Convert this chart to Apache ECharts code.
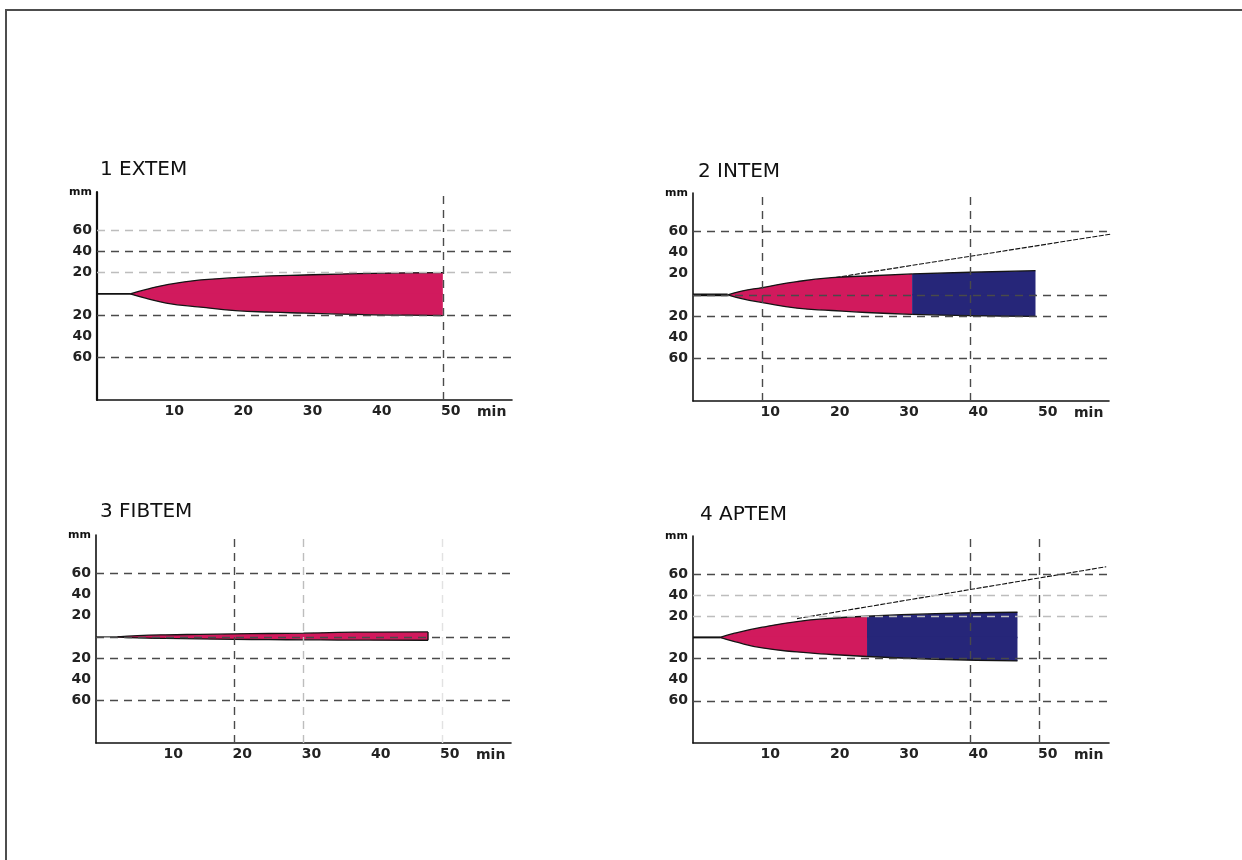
<!DOCTYPE html>
<html><head><meta charset="utf-8">
<script src="https://cdn.jsdelivr.net/npm/echarts@6/dist/echarts.min.js"></script>
<style>
html,body{margin:0;padding:0;background:#fff;}
#chart{width:1242px;height:860px;}
#frame{position:absolute;left:5px;top:9px;width:1237px;height:851px;border-top:2px solid #4d4d4d;border-left:2px solid #4d4d4d;box-sizing:border-box;pointer-events:none;}
</style></head>
<body><div id="chart"></div><div id="frame"></div>
<script>
// ---------- data ----------
const panelTitles = ['1 EXTEM', '2 INTEM', '3 FIBTEM', '4 APTEM'];
const xTickLabels = [10, 20, 30, 40, 50];
const yTickLabels = [20, 40, 60];          // shown mirrored above and below the baseline
const xUnit = 'min';
const yUnit = 'mm';

// 1 EXTEM
const extemBaseEnd = 4.8;
const extemTime  = [4.8, 7, 10, 15, 20, 25, 30, 35, 40, 45, 50];
const extemUpper = [0, 4, 8.5, 13.1, 15.3, 16.9, 17.8, 18.7, 19.4, 19.8, 20];
const extemLower = [0, -4, -8.7, -12.5, -15.7, -17.2, -18.1, -19, -19.7, -20.1, -20.4];
const extemHLines = [60, 40, 20, -20, -60];
const extemHShade = ['light', 'dark', 'light', 'dark', 'dark'];
const extemVLines = [50];
const extemVShade = ['dark'];

// 2 INTEM
const intemBaseEnd = 5;
const intemTimeA  = [5, 7, 10, 15, 20, 25, 31.6];
const intemUpperA = [0, 3.6, 6.9, 12.5, 16.2, 17.8, 19.7];
const intemLowerA = [0, -3.5, -7.2, -12.5, -14.7, -16.6, -18.3];
const intemTimeB  = [31.6, 40, 49.4];
const intemUpperB = [19.7, 21.3, 22.8];
const intemLowerB = [-18.3, -19.6, -20.2];
const intemTrend  = [[15, 10.7], [60.5, 57.5]];
const intemHLines = [60, 0, -20, -60];
const intemHShade = ['dark', 'dark', 'dark', 'dark'];
const intemVLines = [10, 40];
const intemVShade = ['dark', 'dark'];

// 3 FIBTEM
const fibtemBaseEnd = 3.1;
const fibtemTime  = [3.1, 6, 10, 15, 20, 25, 30, 35, 40, 48];
const fibtemUpper = [0, 1.1, 1.9, 2.4, 2.8, 3.2, 3.5, 4.2, 4.5, 4.7];
const fibtemLower = [0, -1, -1.5, -1.9, -2.3, -2.6, -2.8, -3, -3.1, -3.2];
const fibtemHLines = [60, 0, -20, -60];
const fibtemHShade = ['dark', 'dark', 'dark', 'dark'];
const fibtemVLines = [20, 30, 50];
const fibtemVShade = ['dark', 'light', 'faint'];

// 4 APTEM
const aptemBaseEnd = 3.9;
const aptemTimeA  = [3.9, 6, 10, 15, 20, 25.1];
const aptemUpperA = [0, 4, 9.7, 15, 18.1, 20];
const aptemLowerA = [0, -4, -10, -13.8, -16.2, -18.1];
const aptemTimeB  = [25.1, 35, 46.8];
const aptemUpperB = [20, 22.5, 23.8];
const aptemLowerB = [-18.1, -20.7, -22.3];
const aptemTrend  = [[15, 17.8], [59.6, 66.9]];
const aptemHLines = [60, 40, 20, -20, -60];
const aptemHShade = ['dark', 'light', 'light', 'dark', 'dark'];
const aptemVLines = [40, 50];
const aptemVShade = ['dark', 'dark'];

// ---------- styles ----------
const PINK = '#D11A5D';
const NAVY = '#262679';
const EDGE = '#141414';
const SHADE = { dark: '#4a4a4a', light: '#bdbdbd', faint: '#e2e2e2' };
const FONT = 'DejaVu Sans';

const zip = (t, v) => t.map((x, i) => [x, v[i]]);

const gridBoxes = [
  { left: 97,  top: 192, width: 415, height: 208 },
  { left: 693, top: 193, width: 416, height: 208 },
  { left: 96,  top: 535, width: 415, height: 208 },
  { left: 693, top: 536, width: 416, height: 207 }
];
const titlePos = [[100, 160], [698, 162], [100, 502], [700, 505]];

function xAxisFor(i) {
  return {
    gridIndex: i, type: 'value', min: 0, max: 60, interval: 10,
    name: xUnit, nameLocation: 'end', nameGap: -35,
    nameTextStyle: { fontFamily: FONT, fontSize: 14, fontWeight: 'bold', color: '#222', align: 'left', verticalAlign: 'top', padding: [5, 0, 0, 0] },
    axisLine: { show: true, onZero: false, lineStyle: { color: '#111', width: 1.6 } },
    axisTick: { show: false },
    splitLine: { show: false },
    axisLabel: {
      margin: 4, fontFamily: FONT, fontSize: 14, fontWeight: 'bold', color: '#222', padding: [0, 0, 0, 16],
      formatter: v => xTickLabels.includes(v) ? String(v) : ''
    }
  };
}
function yAxisFor(i) {
  return {
    gridIndex: i, type: 'value', min: -100, max: 96, interval: 20,
    name: yUnit, nameLocation: 'end', nameGap: 0,
    nameTextStyle: { fontFamily: FONT, fontSize: 11, fontWeight: 'bold', color: '#111', align: 'right', verticalAlign: 'middle', padding: [0, 5, 0, 0] },
    axisLine: { show: true, onZero: false, lineStyle: { color: '#111', width: i === 0 ? 2.2 : 1.6 } },
    axisTick: { show: false },
    splitLine: { show: false },
    axisLabel: {
      margin: 5, fontFamily: FONT, fontSize: 14, fontWeight: 'bold', color: '#222',
      showMinLabel: true, showMaxLabel: false,
      formatter: v => yTickLabels.includes(Math.abs(v)) ? String(Math.abs(v)) : ''
    }
  };
}

function guideSeries(i, hVals, hShade, vVals, vShade) {
  const data = hVals.map((v, k) => ({ yAxis: v, lineStyle: { color: SHADE[hShade[k]] } }))
    .concat(vVals.map((v, k) => ({ xAxis: v, lineStyle: { color: SHADE[vShade[k]] } })));
  return {
    type: 'line', xAxisIndex: i, yAxisIndex: i, data: [], z: 1, silent: true,
    markLine: {
      silent: true, symbol: ['none', 'none'], label: { show: false },
      lineStyle: { type: [8, 6], width: 1.4 },
      emphasis: { disabled: true },
      data: data
    }
  };
}
// upper halves fill down to slightly below the baseline, lower halves up to slightly above,
// so the two halves overlap and no seam shows along the baseline
function areaSeries(i, t, v, color, isUpper) {
  return {
    type: 'line', xAxisIndex: i, yAxisIndex: i, data: zip(t, v), z: 3,
    smooth: 0.5, symbol: 'none', silent: true,
    lineStyle: { color: EDGE, width: 1.3 },
    areaStyle: { color: color, opacity: 1, origin: isUpper ? -0.7 : 0.7 }
  };
}
function baseSeries(i, end, w) {
  return {
    type: 'line', xAxisIndex: i, yAxisIndex: i, data: [[0, 0], [end, 0]], z: 4,
    symbol: 'none', silent: true, lineStyle: { color: '#111', width: w }
  };
}
function trendSeries(i, pts) {
  return {
    type: 'line', xAxisIndex: i, yAxisIndex: i, data: pts, z: 2, clip: false,
    symbol: 'none', silent: true, lineStyle: { color: '#111', width: 1.1, type: [5, 1.5] }
  };
}
function capSeries(i, t, up, lo) {
  const x = t[t.length - 1];
  return {
    type: 'line', xAxisIndex: i, yAxisIndex: i, z: 4, symbol: 'none', silent: true,
    data: [[x, lo[lo.length - 1]], [x, up[up.length - 1]]],
    lineStyle: { color: EDGE, width: 1.4 }
  };
}

const series = [
  guideSeries(0, extemHLines, extemHShade, extemVLines, extemVShade),
  areaSeries(0, extemTime, extemUpper, PINK, true),
  areaSeries(0, extemTime, extemLower, PINK, false),
  baseSeries(0, extemBaseEnd, 1.6),

  guideSeries(1, intemHLines, intemHShade, intemVLines, intemVShade),
  trendSeries(1, intemTrend),
  areaSeries(1, intemTimeA, intemUpperA, PINK, true),
  areaSeries(1, intemTimeA, intemLowerA, PINK, false),
  areaSeries(1, intemTimeB, intemUpperB, NAVY, true),
  areaSeries(1, intemTimeB, intemLowerB, NAVY, false),
  baseSeries(1, intemBaseEnd, 2.6),

  guideSeries(2, fibtemHLines, fibtemHShade, fibtemVLines, fibtemVShade),
  baseSeries(2, fibtemBaseEnd, 1),
  areaSeries(2, fibtemTime, fibtemUpper, PINK, true),
  areaSeries(2, fibtemTime, fibtemLower, PINK, false),
  capSeries(2, fibtemTime, fibtemUpper, fibtemLower),

  guideSeries(3, aptemHLines, aptemHShade, aptemVLines, aptemVShade),
  trendSeries(3, aptemTrend),
  areaSeries(3, aptemTimeA, aptemUpperA, PINK, true),
  areaSeries(3, aptemTimeA, aptemLowerA, PINK, false),
  areaSeries(3, aptemTimeB, aptemUpperB, NAVY, true),
  areaSeries(3, aptemTimeB, aptemLowerB, NAVY, false),
  baseSeries(3, aptemBaseEnd, 2)
];

const chart = echarts.init(document.getElementById('chart'), null, { renderer: 'canvas' });
chart.setOption({
  backgroundColor: '#fff',
  animation: false,
  title: panelTitles.map((t, i) => ({
    text: t, left: titlePos[i][0], top: titlePos[i][1], padding: 0,
    textStyle: { fontFamily: FONT, fontSize: 20, fontWeight: 'normal', color: '#111' }
  })),
  grid: gridBoxes,
  xAxis: [0, 1, 2, 3].map(xAxisFor),
  yAxis: [0, 1, 2, 3].map(yAxisFor),
  series: series
});
</script>
</body></html>
